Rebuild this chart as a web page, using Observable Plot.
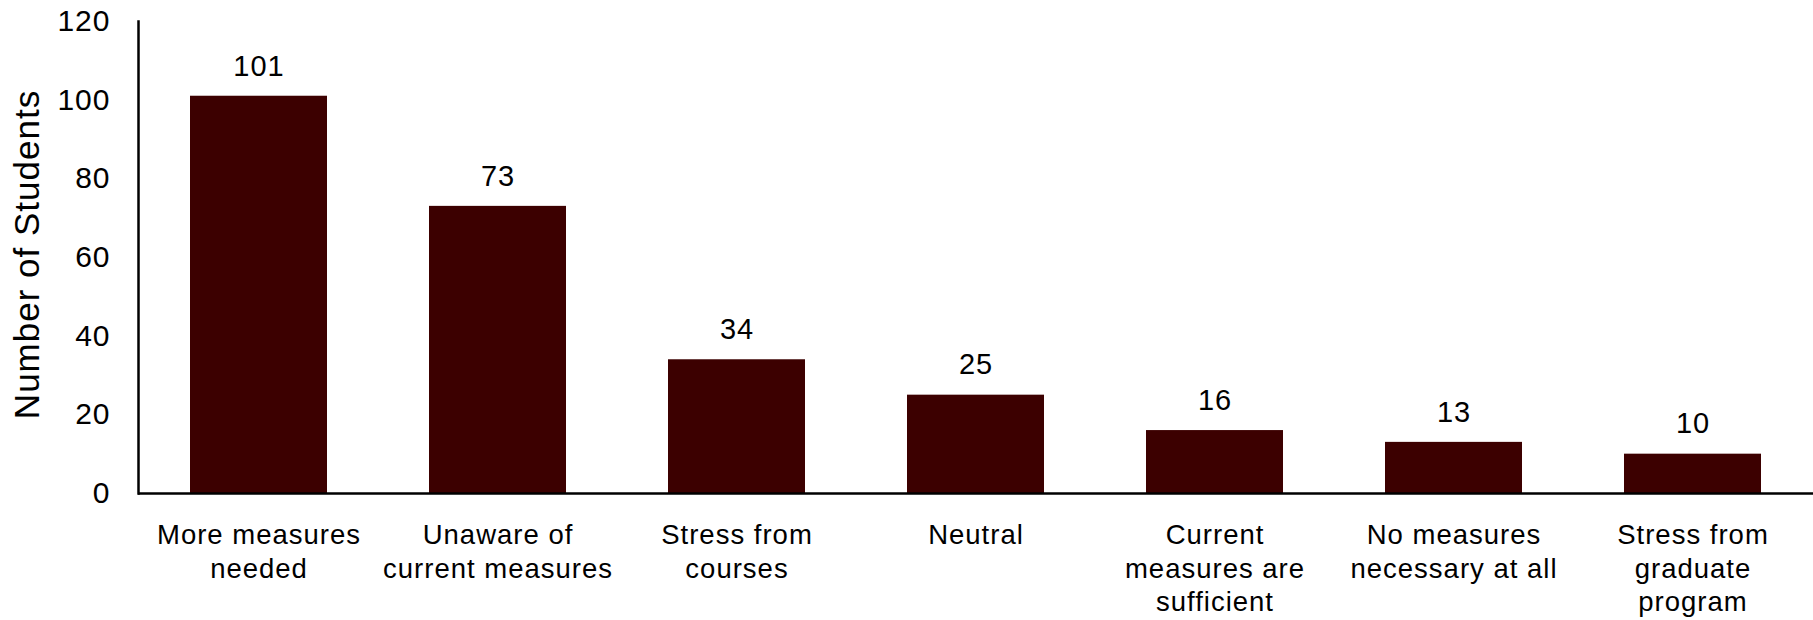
<!DOCTYPE html>
<html><head><meta charset="utf-8">
<script src="https://cdn.jsdelivr.net/npm/d3@7"></script>
<script src="https://cdn.jsdelivr.net/npm/@observablehq/plot@0.6"></script>
<style>body{margin:0;background:#fff;} svg{display:block;} svg text{letter-spacing:1px;}</style>
</head><body><div id="chart"></div>
<script>
const categories = ["More measures\nneeded","Unaware of\ncurrent measures","Stress from\ncourses","Neutral","Current\nmeasures are\nsufficient","No measures\nnecessary at all","Stress from\ngraduate\nprogram"];
const counts = [101, 73, 34, 25, 16, 13, 10];
const yTicks = [0, 20, 40, 60, 80, 100, 120];
const yLabel = "Number of Students";
const data = categories.map((c, i) => ({category: c, count: counts[i]}));

const chart = Plot.plot({
  width: 1813, height: 620,
  marginLeft: 138, marginRight: 0, marginTop: 21, marginBottom: 127,
  style: {fontFamily: "'Liberation Sans', Arial, sans-serif", background: "#fff", color: "#000"},
  x: {domain: categories, paddingInner: 0.426, paddingOuter: 0.213, label: null},
  y: {domain: [0, 120], label: null},
  marks: [
    Plot.barY(data, {x: "category", y: "count", fill: "#3c0000"}),
    Plot.text(data, {x: "category", y: "count", text: d => String(d.count), dy: -30, fontSize: 29, fill: "#000"}),
    Plot.ruleY([0], {stroke: "#000", strokeWidth: 2.5}),
    Plot.frame({anchor: "left", stroke: "#000", strokeWidth: 2.5}),
    Plot.axisY({ticks: yTicks, tickSize: 0, tickPadding: 28, fontSize: 30, label: null}),
    Plot.axisX({tickSize: 0, tickPadding: 27, fontSize: 27.5, lineHeight: 1.22, label: null, textAnchor: "middle", lineAnchor: "top"}),
    Plot.text([yLabel], {text: d => d, frameAnchor: "left", textAnchor: "middle", lineAnchor: "middle", dx: -111, dy: -3, rotate: -90, fontSize: 35, fill: "#000"})
  ]
});
document.getElementById("chart").appendChild(chart);
</script></body></html>
